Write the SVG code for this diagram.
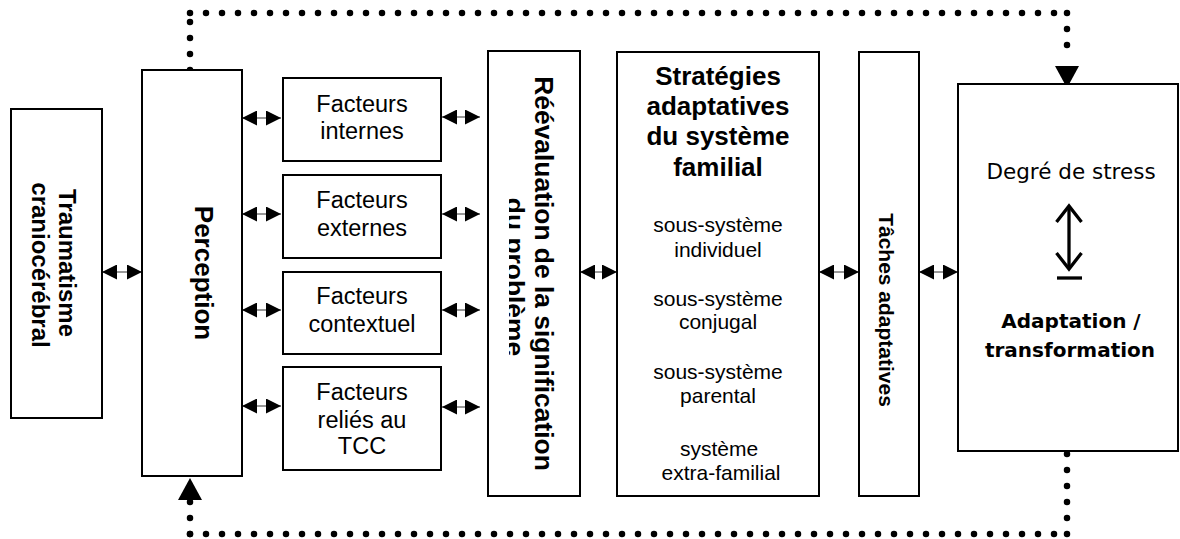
<svg xmlns="http://www.w3.org/2000/svg" width="1180" height="539" viewBox="0 0 1180 539">
<style>
.box{fill:#fff;stroke:#000;stroke-width:2}
.t{font-family:"Liberation Sans",Arial,sans-serif;fill:#000}
.b{font-weight:bold}
.c{text-anchor:middle}
.bi{stroke:#333;stroke-width:1;fill:none;marker-start:url(#ah);marker-end:url(#ah)}
.dot{stroke:#000;stroke-width:6.5;stroke-linecap:round;stroke-dasharray:0 16;fill:none}
.fr{font-family:"DejaVu Sans",sans-serif;fill:#000;text-anchor:middle}
</style>
<defs>
<marker id="ah" markerUnits="userSpaceOnUse" markerWidth="15" markerHeight="15" refX="15" refY="7.5" orient="auto-start-reverse">
<path d="M0,0 L15,7.5 L0,15 Z" fill="#000"/>
</marker>
<clipPath id="clipR" clipPathUnits="userSpaceOnUse"><rect x="509" y="51" width="71" height="445"/></clipPath>
</defs>

<g id="connectors">
<line class="bi" x1="102" y1="272" x2="142" y2="272"/>
<line class="bi" x1="242" y1="118" x2="281" y2="118"/>
<line class="bi" x1="242" y1="214" x2="281" y2="214"/>
<line class="bi" x1="242" y1="310" x2="281" y2="310"/>
<line class="bi" x1="242" y1="406" x2="281" y2="406"/>
<line class="bi" x1="442" y1="117" x2="480" y2="117"/>
<line class="bi" x1="442" y1="214" x2="480" y2="214"/>
<line class="bi" x1="442" y1="310" x2="480" y2="310"/>
<line class="bi" x1="442" y1="407" x2="480" y2="407"/>
<line class="bi" x1="580" y1="272" x2="617" y2="272"/>
<line class="bi" x1="819" y1="272" x2="859" y2="272"/>
<line class="bi" x1="919" y1="272" x2="958" y2="272"/>
<path class="dot" d="M190,13 H1067"/>
<path class="dot" d="M190,70 V13"/>
<path class="dot" d="M1067,13 V61"/>
<path class="dot" d="M190,534 H1067"/>
<path class="dot" d="M1067,534 V452"/>
<path class="dot" d="M190,534 V500"/>
<polygon points="1055,66 1079,66 1067,88" fill="#000"/>
<polygon points="178,500 202,500 190,478" fill="#000"/>
</g>

<g id="traumatisme">
<rect class="box" x="11" y="109" width="91" height="309"/>
<text class="t b c" font-size="24" transform="translate(59,263) rotate(90)">Traumatisme</text>
<text class="t b c" font-size="24" transform="translate(32,265) rotate(90)">craniocérébral</text>
</g>

<g id="perception">
<rect class="box" x="142" y="70" width="100" height="406"/>
<text class="t b c" font-size="26" transform="translate(195,273) rotate(90)">Perception</text>
</g>

<g id="facteurs-internes">
<rect class="box" x="283" y="78" width="158" height="83"/>
<text class="t c" font-size="23.5" x="362" y="112">Facteurs</text>
<text class="t c" font-size="23.5" x="362" y="139">internes</text>
</g>
<g id="facteurs-externes">
<rect class="box" x="283" y="175" width="158" height="83"/>
<text class="t c" font-size="23.5" x="362" y="208">Facteurs</text>
<text class="t c" font-size="23.5" x="362" y="236">externes</text>
</g>
<g id="facteurs-contextuel">
<rect class="box" x="283" y="272" width="158" height="82"/>
<text class="t c" font-size="23.5" x="362" y="304">Facteurs</text>
<text class="t c" font-size="23.5" x="362" y="332">contextuel</text>
</g>
<g id="facteurs-tcc">
<rect class="box" x="283" y="367" width="158" height="103"/>
<text class="t c" font-size="23.5" x="362" y="400">Facteurs</text>
<text class="t c" font-size="23.5" x="362" y="428">reliés au</text>
<text class="t c" font-size="23.5" x="362" y="454">TCC</text>
</g>

<g id="reevaluation">
<rect class="box" x="488" y="51" width="92" height="445"/>
<text class="t b c" font-size="26.4" transform="translate(535,273.5) rotate(90)">Réévaluation de la signification</text>
<g clip-path="url(#clipR)">
<text class="t b c" font-size="26.4" transform="translate(506,277) rotate(90)">du problème</text>
</g>
</g>

<g id="strategies">
<rect class="box" x="617" y="52" width="202" height="444"/>
<text class="t b c" font-size="26" x="718" y="85">Stratégies</text>
<text class="t b c" font-size="26" x="718" y="115">adaptatives</text>
<text class="t b c" font-size="26" x="718" y="145">du système</text>
<text class="t b c" font-size="26" x="718" y="176">familial</text>
<text class="t c" font-size="21" x="718" y="232">sous-système</text>
<text class="t c" font-size="21" x="718" y="257">individuel</text>
<text class="t c" font-size="21" x="718" y="306">sous-système</text>
<text class="t c" font-size="21" x="718" y="329">conjugal</text>
<text class="t c" font-size="21" x="718" y="379">sous-système</text>
<text class="t c" font-size="21" x="718" y="403">parental</text>
<text class="t c" font-size="21" x="719" y="456">système</text>
<text class="t c" font-size="21" x="721" y="480">extra-familial</text>
</g>

<g id="taches">
<rect class="box" x="859" y="52" width="60" height="444"/>
<text class="t b c" font-size="21" transform="translate(879,310) rotate(90)">Tâches adaptatives</text>
</g>

<g id="stress">
<rect class="box" x="958" y="84" width="220" height="367"/>
<text class="fr" font-size="21.5" x="1071" y="179">Degré de stress</text>
<g stroke="#000" stroke-width="3.3" fill="none">
<path d="M1069,206 V269"/>
<path d="M1056.5,222 L1069,206 L1081.5,222"/>
<path d="M1056.5,253 L1069,269 L1081.5,253"/>
<path d="M1057,278 H1082"/>
</g>
<text class="fr" font-weight="bold" font-size="20" x="1071" y="328">Adaptation /</text>
<text class="fr" font-weight="bold" font-size="20" x="1070" y="357">transformation</text>
</g>
</svg>
